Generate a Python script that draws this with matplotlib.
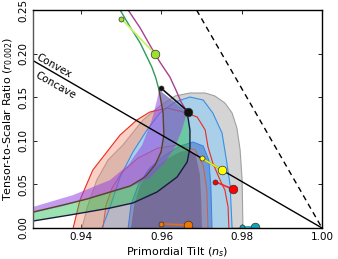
import numpy as np
import matplotlib.pyplot as plt

# marginalised contours (n_s, r)
grey95_ns = [0.9402, 0.9417, 0.9439, 0.9467, 0.9504, 0.9554, 0.9596, 0.9634, 0.9671, 0.9709, 0.9733, 0.9758, 0.9776, 0.9788, 0.9796, 0.9801, 0.9803]
grey95_r = [0.0, 0.0264, 0.0550, 0.0780, 0.0952, 0.1239, 0.1399, 0.1514, 0.1548, 0.1548, 0.1514, 0.1434, 0.1319, 0.1147, 0.0895, 0.0550, 0.0]

red95_ns = [0.9380, 0.9397, 0.9429, 0.9464, 0.9497, 0.9539, 0.9571, 0.9614, 0.9654, 0.9689, 0.9709, 0.9716, 0.9728, 0.9746, 0.9758, 0.9766, 0.9768]
red95_r = [0.0, 0.0321, 0.0665, 0.0872, 0.1067, 0.1239, 0.1330, 0.1376, 0.1330, 0.1273, 0.1124, 0.0929, 0.0745, 0.0550, 0.0436, 0.0241, 0.0]

blue95_ns = [0.9452, 0.9472, 0.9497, 0.9529, 0.9564, 0.9596, 0.9634, 0.9671, 0.9704, 0.9728, 0.9751, 0.9763, 0.9771, 0.9776]
blue95_r = [0.0, 0.0241, 0.0585, 0.0872, 0.1124, 0.1319, 0.1445, 0.1502, 0.1468, 0.1319, 0.1089, 0.0745, 0.0493, 0.0]

mid_ns = [0.9517, 0.9524, 0.9542, 0.9571, 0.9609, 0.9646, 0.9679, 0.9704, 0.9718, 0.9723, 0.9726]
mid_r = [0.0, 0.0264, 0.0493, 0.0688, 0.0837, 0.0940, 0.0986, 0.0940, 0.0780, 0.0493, 0.0]

blue68_ns = [0.9524, 0.9532, 0.9547, 0.9576, 0.9609, 0.9646, 0.9671, 0.9686, 0.9696, 0.9699, 0.9701]
blue68_r = [0.0, 0.0264, 0.0493, 0.0665, 0.0780, 0.0872, 0.0895, 0.0826, 0.0608, 0.0321, 0.0]

red68_ns = [0.9454, 0.9462, 0.9477, 0.9502, 0.9542, 0.9591, 0.9641, 0.9684, 0.9704, 0.9713, 0.9716]
red68_r = [0.0, 0.0264, 0.0459, 0.0642, 0.0803, 0.0917, 0.0952, 0.0895, 0.0722, 0.0436, 0.0]

# model bands: edges for N=50 and N=60
purA_ns = [0.928, 0.9380, 0.9472, 0.9517, 0.9552, 0.9576, 0.9589, 0.9594]
purA_r = [0.0241, 0.0378, 0.0550, 0.0722, 0.0952, 0.1239, 0.1468, 0.1583]
purB_ns = [0.9664, 0.9651, 0.9634, 0.9609, 0.9571, 0.9522, 0.9472, 0.9355, 0.928]
purB_r = [0.1330, 0.1124, 0.0929, 0.0757, 0.0573, 0.0470, 0.0401, 0.0252, 0.0172]

grnC_ns = [0.928, 0.9355, 0.9415, 0.9472, 0.9522, 0.9559, 0.9584, 0.9599, 0.9606, 0.9604, 0.9594]
grnC_r = [0.0183, 0.0264, 0.0333, 0.0413, 0.0482, 0.0585, 0.0722, 0.0872, 0.1067, 0.1319, 0.1583]
grnD_ns = [0.9664, 0.9671, 0.9671, 0.9664, 0.9639, 0.9589, 0.9529, 0.9472, 0.9372, 0.928]
grnD_r = [0.1330, 0.1124, 0.0917, 0.0757, 0.0585, 0.0413, 0.0287, 0.0229, 0.0149, 0.0080]

# curves above the phi^2 points
n50_ns = [0.9497, 0.9522, 0.9547, 0.9564, 0.9576, 0.9586, 0.9594]
n50_r = [0.25, 0.2305, 0.2122, 0.1961, 0.1846, 0.1720, 0.1583]
n60_ns = [0.9517, 0.9547, 0.9571, 0.9596, 0.9621, 0.9636, 0.9649, 0.9664]
n60_r = [0.25, 0.2294, 0.2099, 0.1904, 0.1732, 0.1583, 0.1445, 0.1330]

# model points (N=50, N=60)
models = {
    "phi3": ([0.9500, 0.9583], [0.2400, 0.2000], "#9de030", "#c8f060"),
    "phi2": ([0.9600, 0.9667], [0.1600, 0.1333], "#111111", "#111111"),
    "phi1": ([0.9700, 0.9750], [0.0800, 0.0667], "#ffff00", "#f0f000"),
    "phi23": ([0.9733, 0.9778], [0.0533, 0.0444], "#ff0000", "#ff2020"),
    "R2": ([0.9600, 0.9667], [0.0048, 0.0033], "#f07800", "#e07010"),
    "susy": ([0.9800, 0.9833], [0.0006, 0.0006], "#10a8b8", "#10a8b8"),
}

fig = plt.figure(figsize=(3.38, 2.59), dpi=100)
ax = fig.add_axes([33 / 338, 31 / 259, 289 / 338, 218 / 259])

ax.fill(grey95_ns, grey95_r, color="#d4d4d4", ec="#a0a0a0", lw=0.8, zorder=1)
ax.fill(red95_ns, red95_r, color="#f08a72", alpha=0.4, lw=0, zorder=2)
ax.fill(blue95_ns, blue95_r, color="#a9d0e8", lw=0, zorder=3)
ax.fill(mid_ns, mid_r, color="#6b9bd8", lw=0, zorder=4)
ax.fill(blue68_ns, blue68_r, color="#4a66ad", lw=0, zorder=5)
ax.fill(red68_ns, red68_r, color="#e08070", alpha=0.3, lw=0, zorder=6)
ax.plot(blue95_ns, blue95_r, color="#3a8ee6", lw=0.8, zorder=7)
ax.plot(mid_ns, mid_r, color="#3a7ee0", lw=0.7, zorder=7)
ax.plot(red95_ns, red95_r, color="#ee2a1a", lw=0.8, zorder=7)
ax.plot(red68_ns, red68_r, color="#c86050", lw=0.7, zorder=7)

ax.fill(grnC_ns + grnD_ns, grnC_r + grnD_r, color="#20c050", alpha=0.45, lw=0, zorder=8)
ax.fill(purA_ns + purB_ns, purA_r + purB_r, color="#9448e0", alpha=0.55, lw=0, zorder=9)
ax.plot(grnC_ns, grnC_r, color="#5a4424", lw=1.0, zorder=10)
ax.plot(grnD_ns, grnD_r, color="#1a1a40", lw=1.0, zorder=10)

ax.plot(n50_ns, n50_r, color="#2f9a5a", lw=1.0, zorder=10)
ax.plot(n60_ns, n60_r, color="#a8408e", lw=1.0, zorder=10)

ns_line = np.array([0.928, 1.0])
ax.plot(ns_line, 8 / 3 * (1 - ns_line), color="k", lw=1.0, zorder=11)
ns_dash = np.array([1 - 0.25 / 8, 1.0])
ax.plot(ns_dash, 8 * (1 - ns_dash), color="k", lw=1.0, ls=(0, (4, 3)), zorder=11)

for name, (mx, my, face, lc) in models.items():
    ax.plot(mx, my, color=lc, lw=1.2, zorder=12)
    ax.plot(mx[0], my[0], "o", ms=3.6, mfc=face, mec="#333333", mew=0.5, zorder=13)
    ax.plot(mx[1], my[1], "o", ms=6.2, mfc=face, mec="#333333", mew=0.5, zorder=13)

ax.text(0.9332, 0.1858, "Convex", rotation=-29.4, fontsize=7.5, ha="center", va="center",
        rotation_mode="anchor", zorder=14)
ax.text(0.9335, 0.1640, "Concave", rotation=-29.4, fontsize=7.5, ha="center", va="center",
        rotation_mode="anchor", zorder=14)

ax.set_xlim(0.928, 1.0)
ax.set_ylim(0.0, 0.25)
ax.set_xticks([0.94, 0.96, 0.98, 1.00])
ax.set_xticklabels(["0.94", "0.96", "0.98", "1.00"])
ax.set_yticks([0.0, 0.05, 0.10, 0.15, 0.20, 0.25])
ax.set_yticklabels(["0.00", "0.05", "0.10", "0.15", "0.20", "0.25"], rotation=90, va="center")
ax.tick_params(direction="in", length=3, width=0.6, top=True, right=True, labelsize=7.5, pad=3)
for s in ax.spines.values():
    s.set_linewidth(1.0)
    s.set_zorder(20)
ax.spines["left"].set_color("#555555")
ax.set_xlabel("Primordial Tilt ($n_s$)", fontsize=8, labelpad=2)
ax.set_ylabel("Tensor-to-Scalar Ratio ($r_{0.002}$)", fontsize=8, labelpad=3)

fig.savefig("out.png", dpi=100)
